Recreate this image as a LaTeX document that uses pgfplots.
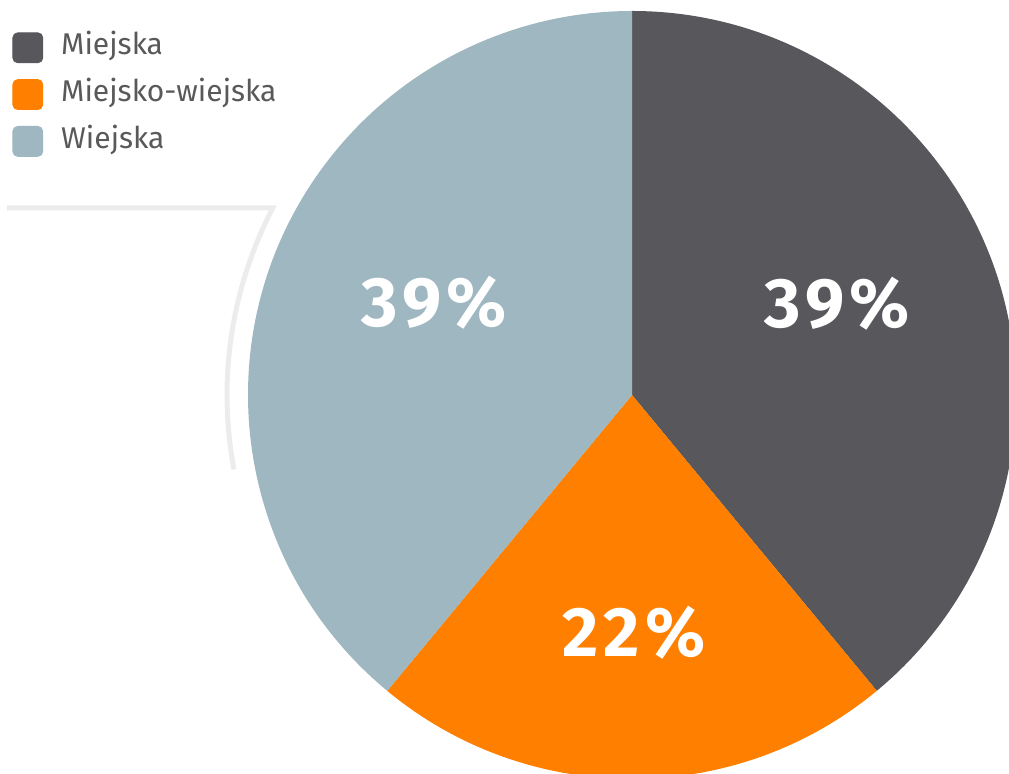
\documentclass[border=0pt]{standalone}
\usepackage{fontspec}
\setmainfont{Fira Sans}
\usepackage{pgfplots}
\pgfplotsset{compat=1.18}
\usepackage{pgfplotstable}
\definecolor{cMiejska}{HTML}{58575C}
\definecolor{cMW}{HTML}{FF8000}
\definecolor{cWiejska}{HTML}{9FB7C1}
\definecolor{cDeco}{HTML}{ECECEC}
\definecolor{cText}{HTML}{595959}
\tikzset{pctlabel/.style={white, font=\fontsize{35pt}{38pt}\selectfont\bfseries\addfontfeature{LetterSpace=7}}}

\pgfplotstableread{
pct
39
22
39
}\piedata

\begin{document}
\begin{tikzpicture}
\pgfplotstablegetelem{0}{pct}\of\piedata \let\pA\pgfplotsretval
\pgfplotstablegetelem{1}{pct}\of\piedata \let\pB\pgfplotsretval
\pgfplotstablegetelem{2}{pct}\of\piedata \let\pC\pgfplotsretval
\pgfmathsetmacro\aA{90-3.6*\pA}
\pgfmathsetmacro\aB{\aA-3.6*\pB}
\pgfmathsetmacro\aC{\aB-3.6*\pC}
\begin{axis}[
  name=ax,
  x=0.5pt, y=0.5pt,
  xmin=0, xmax=1009, ymin=0, ymax=774,
  scale only axis, hide axis, clip=true,
  legend style={at={(axis cs:12,742)}, anchor=north west, draw=none, fill=none,
    inner sep=0pt, font=\fontsize{15pt}{18pt}\selectfont, text=cText,
    row sep=8pt,
    nodes={inner sep=0pt, text height=11pt, text depth=4pt}},
  legend cell align=left,
  legend image code/.code={\fill[#1, rounded corners=2.5pt] (0pt,-7.5pt) rectangle (15pt,7.5pt);},
]
\addlegendimage{cMiejska}
\addlegendentry{\hspace{9pt}Miejska}
\addlegendimage{cMW}
\addlegendentry{\hspace{9pt}Miejsko-wiejska}
\addlegendimage{cWiejska}
\addlegendentry{\hspace{9pt}Wiejska}

\draw[cDeco, line width=2.5pt] (axis cs:7,566) -- (axis cs:272.8,566)
  arc[start angle=152.5, end angle=190.6, radius=202.5pt];

\fill[cMiejska] (axis cs:632,379) -- (axis cs:632,763) arc[start angle=90, end angle=\aA, radius=192pt] -- cycle;
\fill[cMW] (axis cs:632,379) -- ++(\aA:192pt) arc[start angle=\aA, end angle=\aB, radius=192pt] -- cycle;
\fill[cWiejska] (axis cs:632,379) -- ++(\aB:192pt) arc[start angle=\aB, end angle=\aC, radius=192pt] -- cycle;

\node[pctlabel] at (axis cs:434,471) {\pC\%};
\node[pctlabel] at (axis cs:837,470) {\pA\%};
\node[pctlabel] at (axis cs:634,141) {\pB\%};
\end{axis}
\pgfresetboundingbox
\path (ax.south west) rectangle (ax.north east);
\end{tikzpicture}
\end{document}
